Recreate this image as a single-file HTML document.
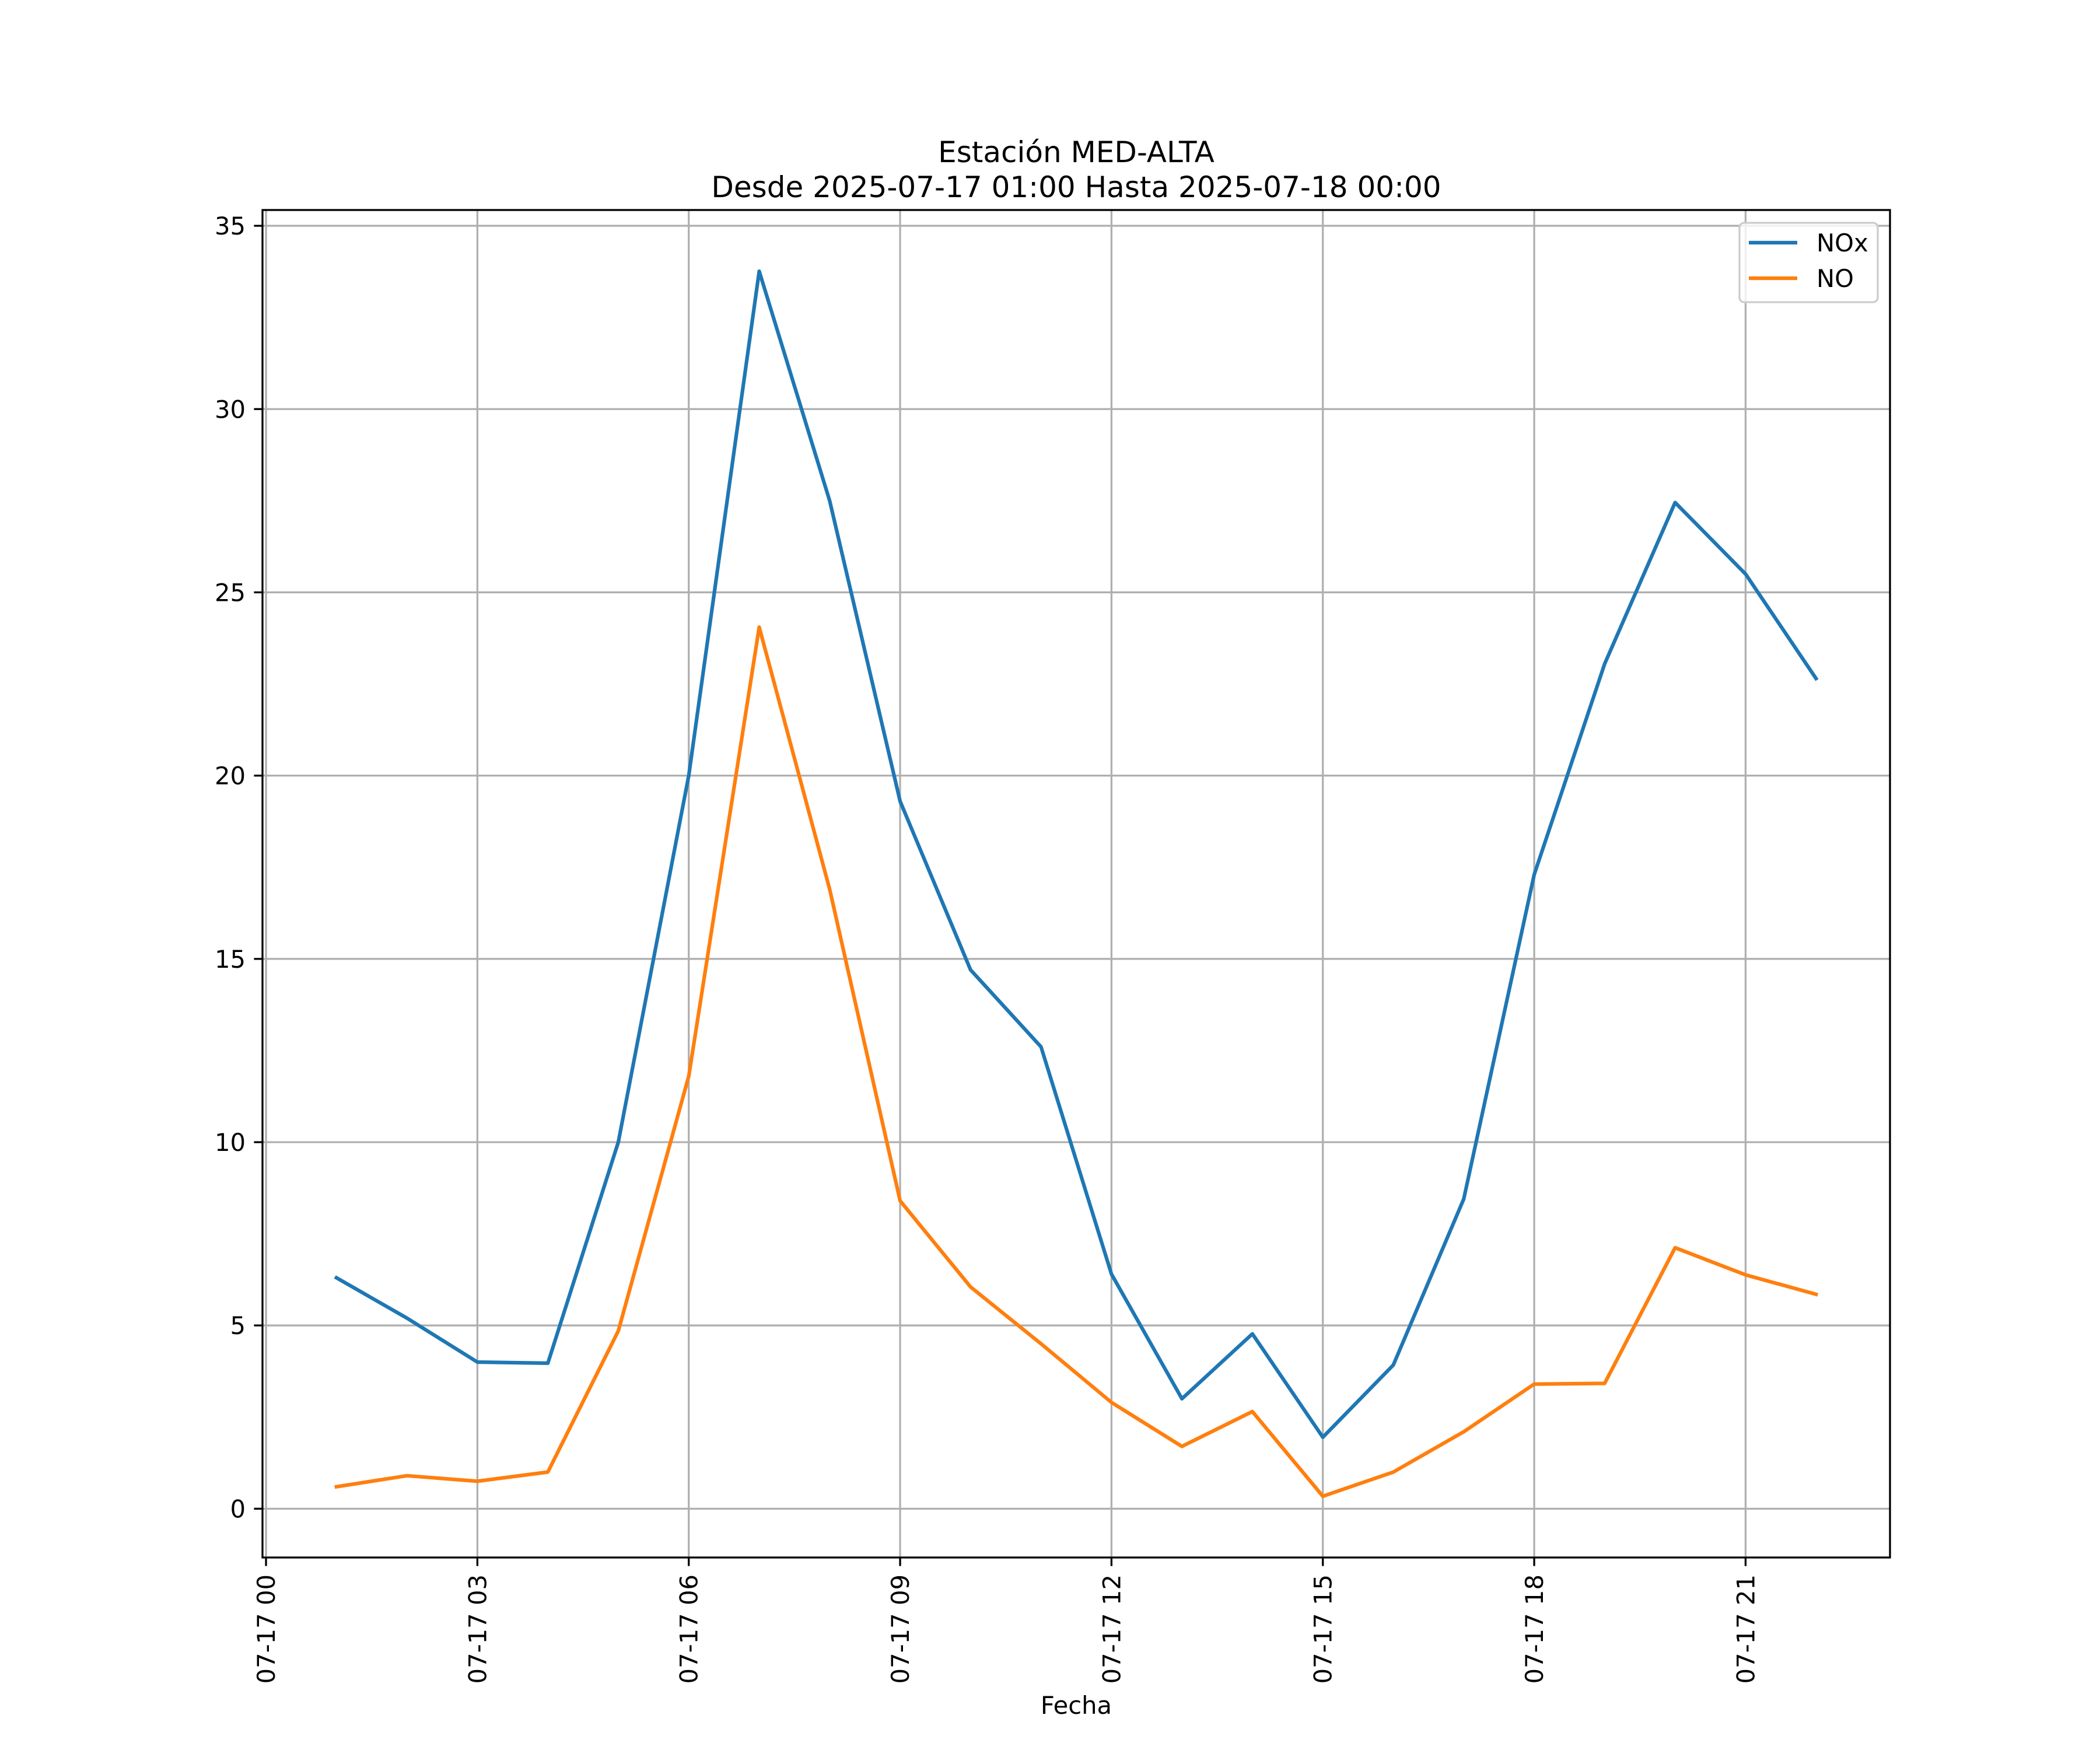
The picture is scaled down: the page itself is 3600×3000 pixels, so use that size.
<!DOCTYPE html>
<html><head><meta charset="utf-8"><style>
html,body{margin:0;padding:0;background:#fff}
svg{display:block;font-family:"DejaVu Sans","Liberation Sans",sans-serif}
</style></head><body>
<svg id="chart" xmlns="http://www.w3.org/2000/svg" width="3600" height="3000" viewBox="0 0 3600 3000">
<rect width="3600" height="3000" fill="#fff"/>
<text x="1845" y="278" font-size="50" text-anchor="middle">Estación MED-ALTA</text>
<text x="1845" y="338" font-size="50" text-anchor="middle">Desde 2025-07-17 01:00 Hasta 2025-07-18 00:00</text>
<g id="grid"></g>
<g id="series"></g>
<rect x="450" y="360" width="2790" height="2310" fill="none" stroke="#000" stroke-width="3.3"/>
<g id="ticks"></g>
<text x="1845" y="2938" font-size="41.7" text-anchor="middle">Fecha</text>
<g>
<rect x="2982" y="382" width="237" height="136" rx="8" fill="#fff" fill-opacity="0.8" stroke="#ccc" stroke-width="3.3"/>
<line x1="2998" y1="416" x2="3081" y2="416" stroke="#1f77b4" stroke-width="6.25"/>
<text x="3114" y="431" font-size="41.7">NOx</text>
<line x1="2998" y1="477" x2="3081" y2="477" stroke="#ff7f0e" stroke-width="6.25"/>
<text x="3114" y="492" font-size="41.7">NO</text>
</g>
</svg>
<script>
const hours = [1,2,3,4,5,6,7,8,9,10,11,12,13,14,15,16,17,18,19,20,21,22];
const noxValues = [6.3,5.2,4.0,3.97,10.0,20.0,33.76,27.5,19.3,14.7,12.6,6.4,3.0,4.77,1.95,3.92,8.45,17.3,23.05,27.45,25.5,22.65];
const noValues = [0.6,0.9,0.75,1.0,4.85,11.8,24.05,16.9,8.4,6.05,4.5,2.9,1.7,2.65,0.34,1.0,2.1,3.4,3.42,7.12,6.38,5.85];
const xTickHours = [0,3,6,9,12,15,18,21];
const xTickLabels = ["07-17 00","07-17 03","07-17 06","07-17 09","07-17 12","07-17 15","07-17 18","07-17 21"];
const yTicks = [0,5,10,15,20,25,30,35];

const L=450,R=3240,T=360,B=2670;
const all=noxValues.concat(noValues);
const ymn=Math.min(...all), ymx=Math.max(...all), yr=ymx-ymn;
const y0=ymn-0.05*yr, y1=ymx+0.05*yr;
const xmn=Math.min(...hours), xmx=Math.max(...hours), xr=xmx-xmn;
const x0=xmn-0.05*xr, x1=xmx+0.05*xr;
const sx=h=>L+(h-x0)/(x1-x0)*(R-L);
const sy=v=>B-(v-y0)/(y1-y0)*(B-T);
const NS="http://www.w3.org/2000/svg";
const grid=document.getElementById('grid'), ticks=document.getElementById('ticks'), series=document.getElementById('series');
function mk(tag,attrs,parent){const e=document.createElementNS(NS,tag);for(const k in attrs)e.setAttribute(k,attrs[k]);parent.appendChild(e);return e;}
xTickHours.forEach((h,i)=>{
  const x=sx(h);
  const g=mk('line',{x1:x,y1:T,x2:x,y2:B,stroke:'#b0b0b0','stroke-width':3.3},grid);
  
  
  const t=mk('line',{x1:x,y1:B,x2:x,y2:B+14.6,stroke:'#000','stroke-width':3.3},ticks);
  
  
  const tx=mk('text',{x:0,y:0,'font-size':41.7,'text-anchor':'end',transform:`translate(${x+15},${B+29}) rotate(-90)`},ticks);
  tx.textContent=xTickLabels[i];
  
  
});
yTicks.forEach(v=>{
  const y=sy(v);
  const g=mk('line',{x1:L,y1:y,x2:R,y2:y,stroke:'#b0b0b0','stroke-width':3.3},grid);
  
  
  const t=mk('line',{x1:L-14.6,y1:y,x2:L,y2:y,stroke:'#000','stroke-width':3.3},ticks);
  
  
  const tx=mk('text',{x:L-29,y:y+15,'font-size':41.7,'text-anchor':'end'},ticks);
  tx.textContent=String(v);
  
  
});
function line(vals,color,name){
  const p=mk('polyline',{points:hours.map((h,i)=>sx(h)+','+sy(vals[i])).join(' '),fill:'none',stroke:color,'stroke-width':6.25,'stroke-linejoin':'round','stroke-linecap':'square'},series);
  
  
}
line(noxValues,'#1f77b4','nox-line');
line(noValues,'#ff7f0e','no-line');
</script>
</body></html>
